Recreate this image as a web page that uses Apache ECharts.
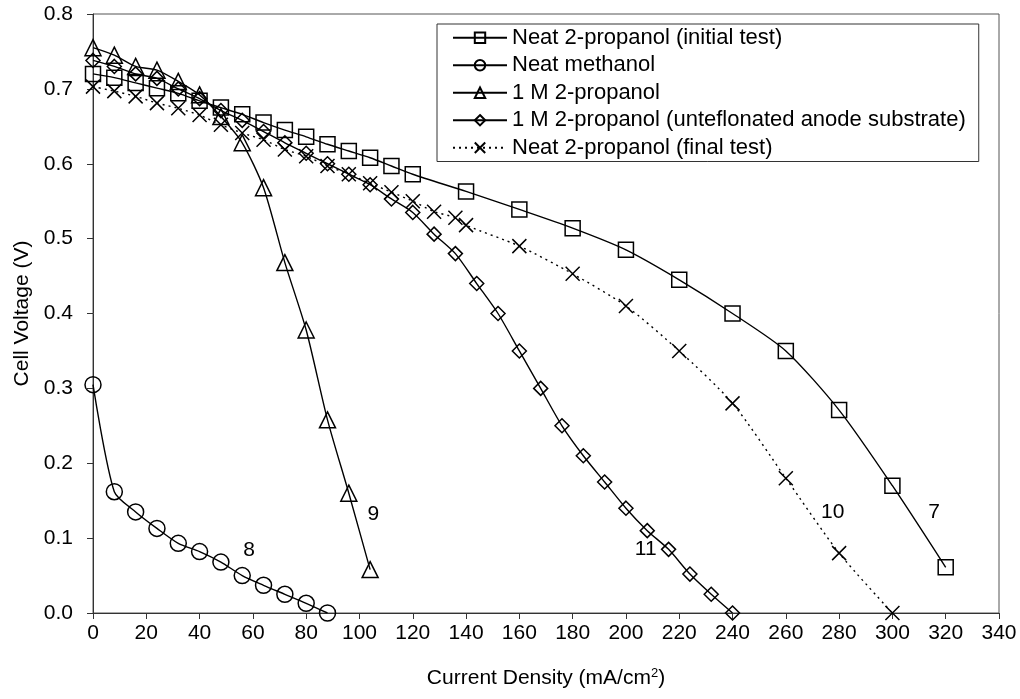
<!DOCTYPE html>
<html>
<head>
<meta charset="utf-8">
<script src="https://cdn.jsdelivr.net/npm/echarts@6/dist/echarts.min.js"></script>
<style>
  html, body { margin: 0; padding: 0; background: #fff; }
  #chart { width: 1020px; height: 699px; }
</style>
</head>
<body>
<div id="chart"></div>
<script>
// current density (mA/cm2) and cell voltage (V)
const initialX = [0, 8, 16, 24, 32, 40, 48, 56, 64, 72, 80, 88, 96, 104, 112, 120, 140, 160, 180, 200, 220, 240, 260, 280, 300, 320];
const initialV = [0.72, 0.715, 0.708, 0.701, 0.694, 0.684, 0.675, 0.666, 0.655, 0.645, 0.636, 0.626, 0.617, 0.608, 0.597, 0.586, 0.563, 0.539, 0.514, 0.485, 0.445, 0.400, 0.350, 0.271, 0.170, 0.061];

const methanolX = [0, 8, 16, 24, 32, 40, 48, 56, 64, 72, 80, 88];
const methanolV = [0.305, 0.162, 0.135, 0.113, 0.093, 0.082, 0.068, 0.050, 0.037, 0.025, 0.013, 0.0];

const oneMX = [0, 8, 16, 24, 32, 40, 48, 56, 64, 72, 80, 88, 96, 104];
const oneMV = [0.755, 0.745, 0.73, 0.725, 0.71, 0.692, 0.663, 0.628, 0.568, 0.468, 0.378, 0.258, 0.16, 0.058];

const unteflonX = [0, 8, 16, 24, 32, 40, 48, 56, 64, 72, 80, 88, 96, 104, 112, 120, 128, 136, 144, 152, 160, 168, 176, 184, 192, 200, 208, 216, 224, 232, 240];
const unteflonV = [0.738, 0.73, 0.72, 0.714, 0.70, 0.687, 0.671, 0.658, 0.643, 0.628, 0.614, 0.600, 0.586, 0.572, 0.553, 0.535, 0.506, 0.480, 0.440, 0.400, 0.350, 0.300, 0.250, 0.210, 0.175, 0.140, 0.110, 0.085, 0.052, 0.025, 0.0];

const finalX = [0, 8, 16, 24, 32, 40, 48, 56, 64, 72, 80, 88, 96, 104, 112, 120, 128, 136, 140, 160, 180, 200, 220, 240, 260, 280, 300];
const finalV = [0.703, 0.697, 0.69, 0.681, 0.674, 0.665, 0.652, 0.641, 0.632, 0.619, 0.61, 0.597, 0.586, 0.574, 0.562, 0.55, 0.536, 0.528, 0.518, 0.49, 0.453, 0.41, 0.35, 0.28, 0.18, 0.08, 0.0];

const seriesNames = [
  "Neat 2-propanol (initial test)",
  "Neat methanol",
  "1 M 2-propanol",
  "1 M 2-propanol (unteflonated anode substrate)",
  "Neat 2-propanol (final test)"
];

// curve numbers written next to the curves
const curveLabels = ["7", "8", "9", "10", "11"];
const curveLabelX = [315.6, 58.6, 105.2, 277.6, 207.4];
const curveLabelV = [0.134, 0.084, 0.132, 0.134, 0.085];

const FONT = "'Liberation Sans', Arial, sans-serif";
const zip = (xs, ys) => xs.map((x, i) => [x, ys[i]]);

const chart = echarts.init(document.getElementById("chart"));

function curve(name, xs, ys, symbol, size, dotted) {
  return {
    name: name,
    type: "line",
    data: zip(xs, ys),
    smooth: 0.25,
    symbol: symbol,
    symbolSize: size,
    showAllSymbol: true,
    lineStyle: { color: "#000", width: 1.4, type: dotted ? [2, 4] : "solid" },
    itemStyle: { color: "rgba(0,0,0,0)", borderColor: "#000", borderWidth: 1.5 },
    emphasis: { disabled: true },
    z: 3
  };
}

const option = {
  backgroundColor: "#fff",
  animation: false,
  textStyle: { fontFamily: FONT, color: "#000" },
  grid: {
    left: 93, right: 21, top: 14, bottom: 86,
    show: true, borderColor: "#555", borderWidth: 1
  },
  legend: {
    data: seriesNames,
    orient: "vertical",
    left: 437,
    top: 24,
    padding: [0, 13, 0, 15],
    itemGap: 0,
    itemWidth: 54,
    itemHeight: 13,
    backgroundColor: "#fff",
    borderColor: "#333",
    borderWidth: 1,
    textStyle: { fontFamily: FONT, fontSize: 22, color: "#000", lineHeight: 27.5, height: 27.5 }
  },
  xAxis: {
    type: "value",
    min: 0, max: 340, interval: 20,
    name: "Current Density (mA/cm{sup|2})",
    nameLocation: "middle",
    nameGap: 54,
    nameTextStyle: {
      fontFamily: FONT, fontSize: 21, color: "#000",
      rich: { sup: { fontFamily: FONT, fontSize: 13, verticalAlign: "top", padding: [0, 0, 10, 0] } }
    },
    axisLine: { lineStyle: { color: "#333", width: 1 } },
    axisTick: { inside: false, length: 6, lineStyle: { color: "#333" } },
    axisLabel: { fontFamily: FONT, fontSize: 21, color: "#000", margin: 10 },
    splitLine: { show: false }
  },
  yAxis: {
    type: "value",
    min: 0, max: 0.8, interval: 0.1,
    name: "Cell Voltage (V)",
    nameLocation: "middle",
    nameGap: 58,
    nameTextStyle: { fontFamily: FONT, fontSize: 21, color: "#000" },
    axisLine: { lineStyle: { color: "#333", width: 1 } },
    axisTick: { inside: false, length: 6, lineStyle: { color: "#333" } },
    axisLabel: { fontFamily: FONT, fontSize: 21, color: "#000", margin: 20, formatter: v => v.toFixed(1) },
    splitLine: { show: false }
  },
  series: [
    curve(seriesNames[0], initialX, initialV, "rect", 15, false),
    curve(seriesNames[1], methanolX, methanolV, "circle", 16, false),
    curve(seriesNames[2], oneMX, oneMV, "triangle", 16, false),
    curve(seriesNames[3], unteflonX, unteflonV, "diamond", 14, false),
    curve(seriesNames[4], finalX, finalV, "path://M0,0L10,10M10,0L0,10", 14, true),
    {
      type: "scatter",
      silent: true,
      symbolSize: 0,
      itemStyle: { color: "#000", opacity: 1 },
      label: {
        show: true, position: [0, 0], align: "center", verticalAlign: "middle",
        formatter: "{b}", fontFamily: FONT, fontSize: 21, color: "#000",
        textBorderWidth: 0
      },
      data: curveLabels.map((t, i) => ({ name: t, value: [curveLabelX[i], curveLabelV[i]] })),
      z: 4
    }
  ]
};

chart.setOption(option);
</script>
</body>
</html>
